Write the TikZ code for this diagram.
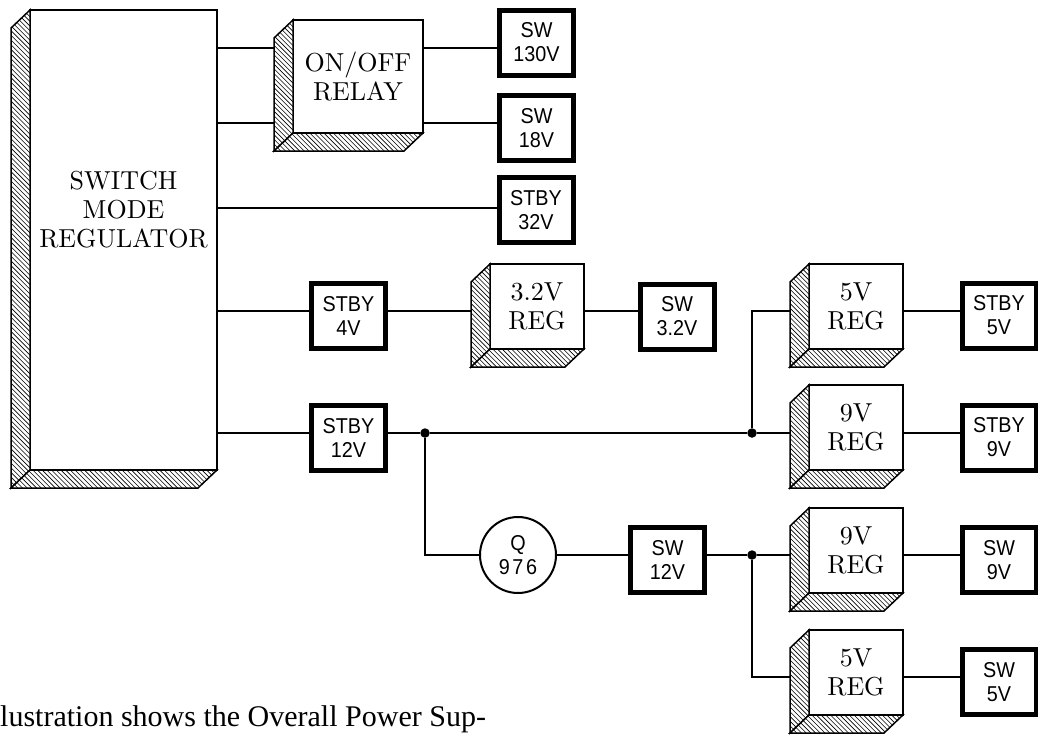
\documentclass[tikz,border=0pt]{standalone}
\usepackage{fontspec}
\setsansfont{Liberation Sans}[FakeStretch=0.92]
\newfontfamily\captionserif{Liberation Serif}
\newfontfamily\boxserif{lmroman10-regular.otf}
\usepackage{tikz}
\newcommand{\hatchdepth}[1]{%
  \draw[depthface] (#1.north west) -- ++(-19,18) -- ([shift={(-19,18)}]#1.south west) -- (#1.south west) -- cycle;
  \draw[depthface] (#1.south west) -- ++(-19,18) -- ([shift={(-19,18)}]#1.south east) -- (#1.south east) -- cycle;}

\begin{document}
\begin{tikzpicture}[
x=1pt, y=-1pt,
wire/.style={line width=1.1pt},
regbox/.style={draw, line width=1.8pt, fill=white, outer sep=0pt, align=center,
  inner sep=0pt, minimum width=94pt, minimum height=85pt, font=\boxserif\fontsize{26}{29}\selectfont},
railbox/.style={draw, line width=5pt, fill=white, outer sep=0pt, align=center, inner sep=0pt,
  minimum width=74pt, minimum height=65pt, font=\sffamily\fontsize{21.5}{24}\selectfont},
depthface/.style={line width=1.5pt, line join=miter, fill=white,
  path picture={\foreach \k in {-500,-495.3,...,220}
    \draw[line width=0.6pt] ([xshift=\k pt]path picture bounding box.north west) -- ++(700,700);}},
junction/.style={circle, fill, inner sep=0pt, minimum size=9.5pt}
]
\useasboundingbox (0,0) rectangle (1038,734);
% rows of the wiring
\coordinate (rA) at (0,48);
\coordinate (rB) at (0,123);
\coordinate (rC) at (0,208);
\coordinate (rD) at (0,311);
\coordinate (rE) at (0,433);
\coordinate (rF) at (0,555);
\coordinate (rG) at (0,677);

\node[regbox, minimum width=187pt, minimum height=460pt] (smr) at (123.5,240) {};
\node[align=center, font=\boxserif\fontsize{26}{29}\selectfont] (smrtext) at (123.5,210) {SWITCH\\MODE\\REGULATOR};
\node[regbox, minimum width=130pt, minimum height=113pt] (relay) at (358,76.5) {ON/OFF\\RELAY};
\node[railbox] (sw130) at (536.5,42.5) {SW\\130V};
\node[railbox] (sw18) at (536.5,128) {SW\\18V};
\node[railbox] (stby32) at (536,210) {STBY\\32V};
\node[railbox] (stby4) at (348.5,316) {STBY\\4V};
\node[regbox] (reg32) at (537,306.5) {3.2V\\REG};
\node[railbox] (sw32) at (677,316.5) {SW\\3.2V};
\node[railbox] (stby12) at (348.5,438) {STBY\\12V};
\node[junction] (dotA) at (425,433) {};
\node[junction] (dotB) at (752,433) {};
\node[regbox] (reg5a) at (856,306.5) {5V\\REG};
\node[regbox] (reg9a) at (856,427.5) {9V\\REG};
\node[railbox] (stby5) at (999,315.5) {STBY\\5V};
\node[railbox] (stby9) at (999,437.5) {STBY\\9V};
\node[circle, draw, line width=2pt, minimum size=76pt, inner sep=0pt, align=center,
  font=\sffamily\fontsize{21.5}{24}\selectfont] (q976) at (518,555) {Q\\{\addfontfeatures{LetterSpace=12}976}};
\node[railbox] (sw12) at (667.5,560) {SW\\12V};
\node[junction] (dotC) at (752,555) {};
\node[regbox] (reg9b) at (856,550.5) {9V\\REG};
\node[regbox] (reg5b) at (856,672.5) {5V\\REG};
\node[railbox] (sw9) at (999,560) {SW\\9V};
\node[railbox] (sw5) at (999,682) {SW\\5V};

\draw[wire] (smr.east |- rA) -- (relay.west |- rA);
\draw[wire] (smr.east |- rB) -- (relay.west |- rB);
\draw[wire] (relay.east |- rA) -- (sw130.west |- rA);
\draw[wire] (relay.east |- rB) -- (sw18.west |- rB);
\draw[wire] (smr.east |- rC) -- (stby32.west |- rC);
\draw[wire] (smr.east |- rD) -- (stby4.west |- rD);
\draw[wire] (stby4.east |- rD) -- (reg32.west |- rD);
\draw[wire] (reg32.east |- rD) -- (sw32.west |- rD);
\draw[wire] (smr.east |- rE) -- (stby12.west |- rE);
\draw[wire] (stby12.east |- rE) -- (dotA) -- (dotB) -- (reg9a.west |- rE);
\draw[wire] (dotB) |- (reg5a.west |- rD);
\draw[wire] (reg5a.east |- rD) -- (stby5.west |- rD);
\draw[wire] (reg9a.east |- rE) -- (stby9.west |- rE);
\draw[wire] (dotA) |- (q976);
\draw[wire] (q976.east) -- (sw12.west |- rF);
\draw[wire] (sw12.east |- rF) -- (dotC) -- (reg9b.west |- rF);
\draw[wire] (dotC) |- (reg5b.west |- rG);
\draw[wire] (reg9b.east |- rF) -- (sw9.west |- rF);
\draw[wire] (reg5b.east |- rG) -- (sw5.west |- rG);

\hatchdepth{smr}
\hatchdepth{relay}
\hatchdepth{reg32}
\hatchdepth{reg5a}
\hatchdepth{reg9a}
\hatchdepth{reg9b}
\hatchdepth{reg5b}

\node[anchor=base west, inner sep=0pt, font=\captionserif\fontsize{30}{36}\selectfont] (caption) at (0,726)
  {lustration shows the Overall Power Sup-};
\end{tikzpicture}
\end{document}
